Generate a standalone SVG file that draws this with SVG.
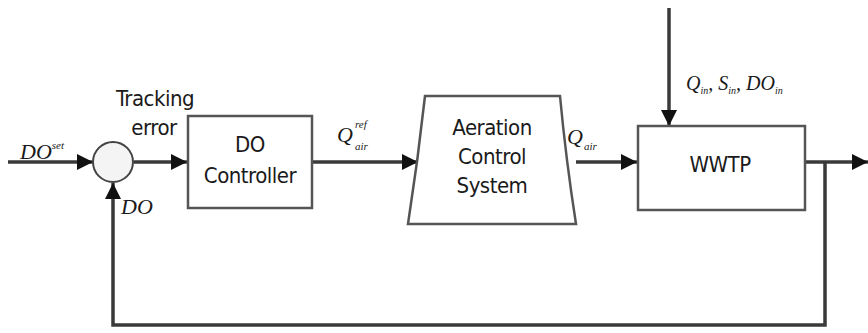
<svg xmlns="http://www.w3.org/2000/svg" width="868" height="333" viewBox="0 0 868 333">
<style>
.ln{stroke:#3a3a3a;stroke-width:3.5;fill:none}
.bx{stroke:#555;stroke-width:2.5;fill:#fff}
.t{font-family:"DejaVu Sans Condensed","Liberation Sans",sans-serif;font-size:22px;fill:#1a1a1a;text-anchor:middle;letter-spacing:-0.5px}
.m{font-family:"Liberation Serif",serif;font-style:italic;fill:#1a1a1a}
</style>
<defs>
<marker id="ah" viewBox="0 0 10 10" refX="10" refY="5" markerWidth="16" markerHeight="18" markerUnits="userSpaceOnUse" orient="auto">
<path d="M0,0 L10,5 L0,10 Z" fill="#111"/>
</marker>
</defs>
<rect width="868" height="333" fill="#fff"/>
<g id="connectors">
<line class="ln" x1="8" y1="162" x2="93" y2="162" marker-end="url(#ah)"/>
<line class="ln" x1="134" y1="162" x2="187" y2="162" marker-end="url(#ah)"/>
<line class="ln" x1="312" y1="162" x2="418" y2="162" marker-end="url(#ah)"/>
<line class="ln" x1="576" y1="162" x2="637" y2="162" marker-end="url(#ah)"/>
<line class="ln" x1="805" y1="162" x2="868" y2="162" marker-end="url(#ah)"/>
<line class="ln" x1="669" y1="8" x2="669" y2="126" marker-end="url(#ah)"/>
<polyline class="ln" points="825,162 825,325 113,325 113,183" marker-end="url(#ah)"/>
</g>
<g id="sum">
<circle cx="113" cy="162" r="20" fill="#f4f4f4" stroke="#444" stroke-width="2"/>
</g>
<g id="controller">
<rect class="bx" x="188" y="116" width="124" height="92"/>
<text class="t" x="250" y="152">DO</text>
<text class="t" x="250" y="183">Controller</text>
</g>
<g id="aeration">
<path class="bx" d="M425,96 L560,96 Q566,160 576,224 L408,224 Q418,160 425,96 Z"/>
<text class="t" x="492" y="135">Aeration</text>
<text class="t" x="492" y="164">Control</text>
<text class="t" x="492" y="193">System</text>
</g>
<g id="wwtp">
<rect class="bx" x="638" y="126" width="167" height="84"/>
<text class="t" x="720" y="172">WWTP</text>
</g>
<g id="labels">
<text class="t" x="155" y="106">Tracking</text>
<text class="t" x="154" y="135">error</text>
<text class="m" x="20" y="159" font-size="22">DO<tspan font-size="11" dy="-10">set</tspan></text>
<text class="m" x="121" y="214" font-size="22">DO</text>
<text class="m" x="337" y="142" font-size="22">Q</text>
<text class="m" x="355" y="128" font-size="11">ref</text>
<text class="m" x="355" y="150" font-size="11">air</text>
<text class="m" x="567" y="144" font-size="22">Q</text>
<text class="m" x="584" y="150" font-size="11">air</text>
<text class="m" x="686" y="90" font-size="20">Q<tspan font-size="10" dy="4">in</tspan><tspan dy="-4">, S</tspan><tspan font-size="10" dy="4">in</tspan><tspan dy="-4">, DO</tspan><tspan font-size="10" dy="4">in</tspan></text>
</g>
</svg>
